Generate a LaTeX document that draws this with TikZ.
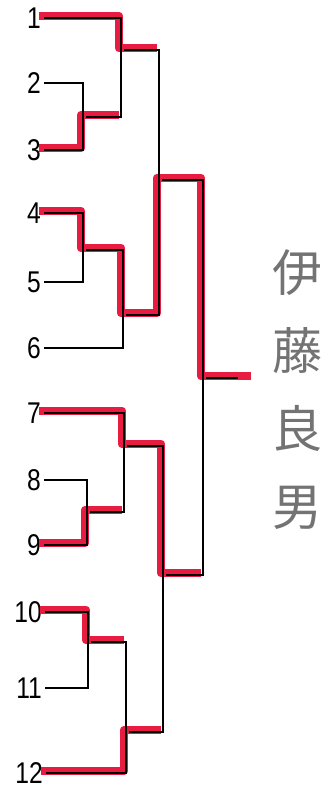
\documentclass[tikz,border=0pt]{standalone}
\usepackage{fontspec}
\newfontfamily\numfont{Liberation Sans}
\newfontfamily\jpfont{Noto Sans CJK JP}
\definecolor{winred}{RGB}{232,28,64}
\usetikzlibrary{positioning}

\begin{document}
\begin{tikzpicture}[x=1pt, y=1pt]
	\tikzstyle{player} = [anchor=east, inner sep=0pt, xscale=0.82, 
	font=\numfont\fontsize{30}{30}\selectfont]
	\tikzstyle{bracket} = [line width=1.3pt, draw=black, shorten <=3pt]
	\tikzstyle{winner} = [line width=8.5pt, draw=winred, line join=round, 
	transform canvas={shift={(-2pt,2pt)}}]
	\useasboundingbox (0,0) rectangle (336,-790);
	% entrants
	\node (player1) [player] at (41,-18) {1};
	\node (player2) [player] at (41,-83) {2};
	\node (player3) [player] at (41,-150) {3};
	\node (player4) [player] at (41,-213) {4};
	\node (player5) [player] at (41,-282) {5};
	\node (player6) [player] at (41,-348) {6};
	\node (player7) [player] at (41,-413) {7};
	\node (player8) [player] at (41,-480) {8};
	\node (player9) [player] at (41,-545) {9};
	\node (player10) [player] at (42,-612) {10};
	\node (player11) [player] at (42,-688) {11};
	\node (player12) [player] at (43,-773) {12};
	% junctions
	\coordinate (match23) at (83,-117);
	\coordinate (match45) at (83,-250);
	\coordinate (match89) at (87,-512);
	\coordinate (match1011) at (88,-642);
	\coordinate (match1) at (121,-50);
	\coordinate (match6) at (123,-315);
	\coordinate (match7) at (124,-446);
	\coordinate (match12) at (126,-732);
	\coordinate (semiTop) at (159,-180);
	\coordinate (semiBottom) at (163,-575);
	\coordinate (final) at (203,-378);
	\coordinate (champion) at (238,-378);
	% winners
	\draw [winner] (player3.east) -| (match23) -- (match23 -| match1);
	\draw [winner] (player1.east) -| (match1) -- (match1 -| semiTop);
	\draw [winner, shorten >=-15pt] (player4.east) -| (match45) -| (match6) 
	-| (semiTop) -| (final) -- (champion);
	\draw [winner] (player7.east) -| (match7) -| (semiBottom) -- (semiBottom -| final);
	\draw [winner] (player9.east) -| (match89) -- (match89 -| match7);
	\draw [winner] (player10.east) -| (match1011) -- (match1011 -| match12);
	\draw [winner] (player12.east) -| (match12) -- (match12 -| semiBottom);
	% bracket
	\draw [bracket] (player2.east) -| (match23);
	\draw [bracket] (player3.east) -| (match23);
	\draw [bracket] (player1.east) -| (match1);
	\draw [bracket] (match23) -| (match1);
	\draw [bracket] (player4.east) -| (match45);
	\draw [bracket] (player5.east) -| (match45);
	\draw [bracket] (match45) -| (match6);
	\draw [bracket] (player6.east) -| (match6);
	\draw [bracket] (player7.east) -| (match7);
	\draw [bracket] (player8.east) -| (match89);
	\draw [bracket] (player9.east) -| (match89);
	\draw [bracket] (match89) -| (match7);
	\draw [bracket] (player10.east) -| (match1011);
	\draw [bracket] (player11.east) -| (match1011);
	\draw [bracket] (match1011) -| (match12);
	\draw [bracket] (player12.east) -| (match12);
	\draw [bracket] (match1) -| (semiTop);
	\draw [bracket] (match6) -| (semiTop);
	\draw [bracket] (match7) -| (semiBottom);
	\draw [bracket] (match12) -| (semiBottom);
	\draw [bracket] (semiTop) -| (final);
	\draw [bracket] (semiBottom) -| (final);
	\draw [bracket] (final) -- (champion);
	% name
	\node (name) [font=\jpfont\fontsize{50}{78}\selectfont, text=black!55, 
	align=center] at (297,-390) {伊\\藤\\良\\男};
\end{tikzpicture}
\end{document}
